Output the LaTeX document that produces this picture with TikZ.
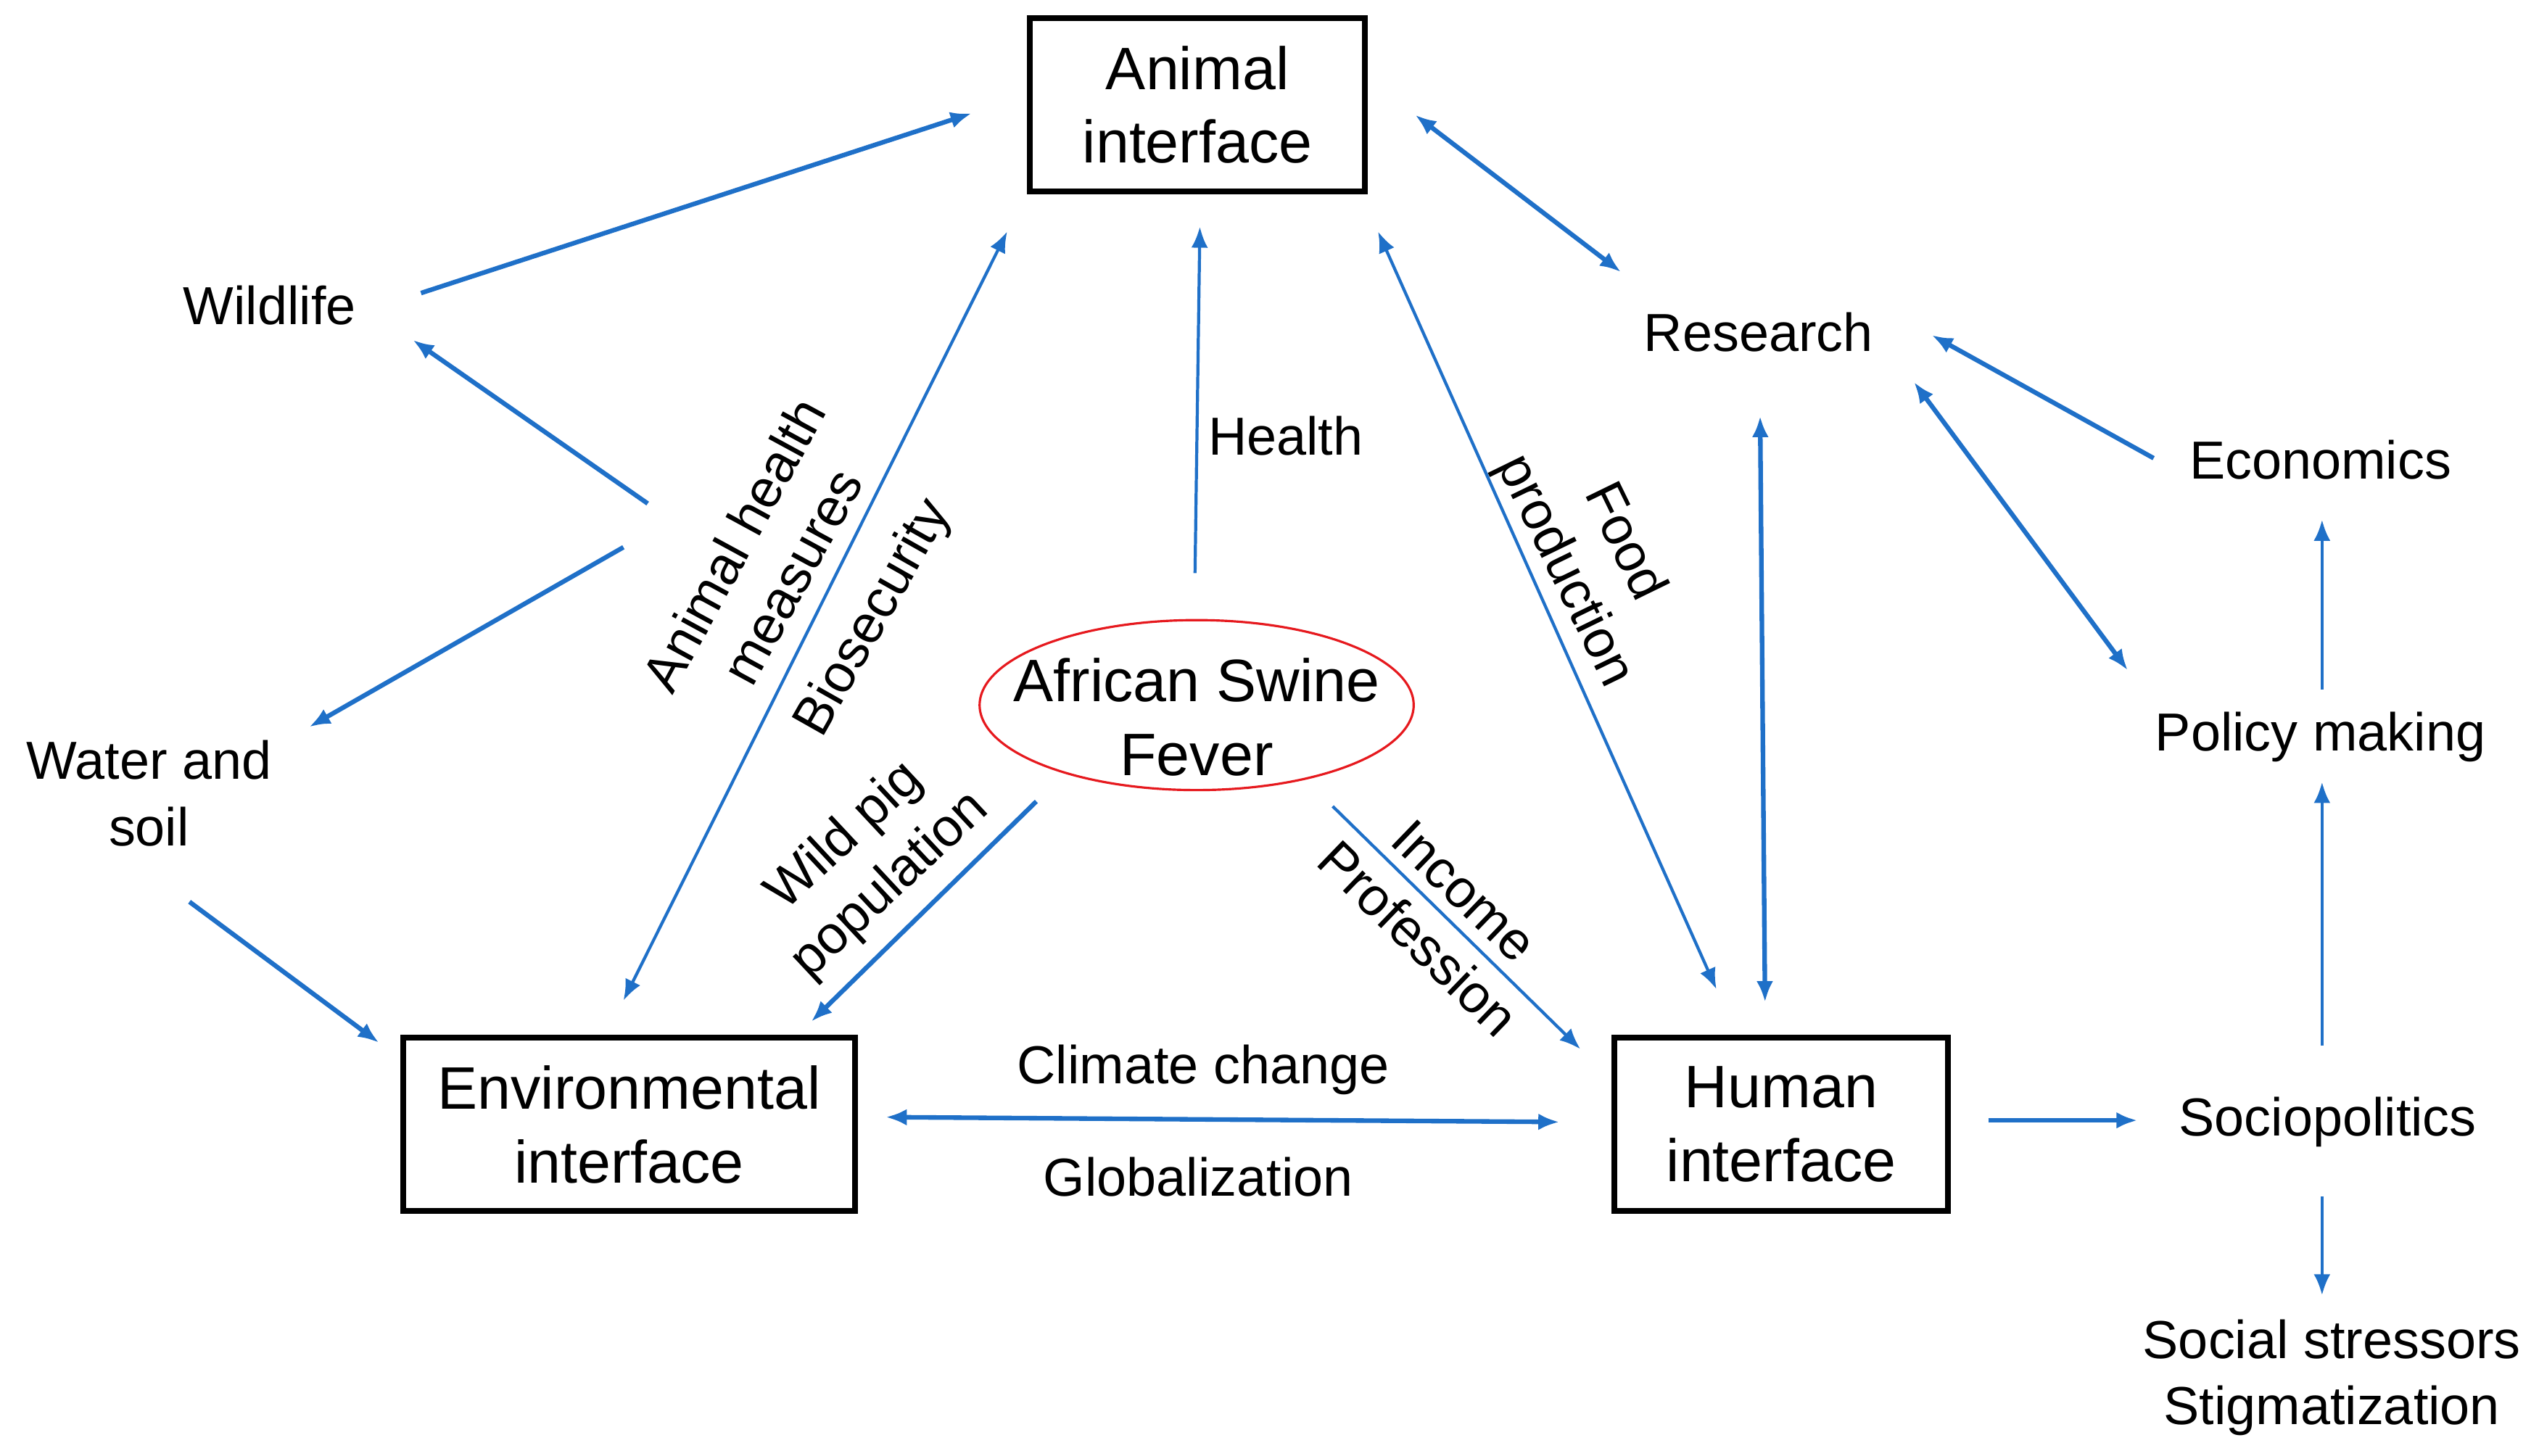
\documentclass[tikz,border=0pt]{standalone}
\usepackage{fontspec}
\setmainfont{Liberation Sans}
\usetikzlibrary{arrows.meta,calc,shapes.geometric}
\definecolor{arrblue}{RGB}{31,112,200}
\definecolor{ellred}{RGB}{230,25,30}
\begin{document}
\begin{tikzpicture}[x=0.022328cm,y=-0.022328cm,
 lbl/.style={font=\fontsize{21}{26}\selectfont, inner sep=0pt, align=center},
 bigtxt/.style={font=\fontsize{23.5}{29}\selectfont, inner sep=0pt, align=center},
 iface/.style={bigtxt, draw=black, line width=2.2pt},
 arr/.style={draw=arrblue, line width=1.8pt, -{Latex[length=0.29cm,width=0.23cm]}},
 darr/.style={arr, {Latex[length=0.29cm,width=0.23cm]}-{Latex[length=0.29cm,width=0.23cm]}},
 thinline/.style={line width=1.2pt},
]
\useasboundingbox[fill=white] (0,0) rectangle (1568,898.87);
% main nodes
\node[iface, minimum width=4.622cm, minimum height=2.389cm] (animal) at (739.5,64.7) {Animal\\interface};
\node[iface, minimum width=6.229cm, minimum height=2.389cm] (env) at (388.5,694.5) {Environmental\\interface};
\node[iface, minimum width=4.600cm, minimum height=2.389cm] (human) at (1100,694.5) {Human\\interface};
\node[ellipse, draw=ellred, line width=0.9pt, minimum width=5.984cm, minimum height=2.344cm, inner sep=0pt] (asf) at (739,435.5) {};
\node[bigtxt] (asftext) at (739,443) {African Swine\\Fever};
% text nodes
\node[lbl] (wild) at (166.5,188.5) {Wildlife};
\node[lbl] (water) at (92,490) {Water and\\soil};
\node[lbl] (research) at (1086,205) {Research};
\node[lbl] (econ) at (1433,284) {Economics};
\node[lbl] (policy) at (1433,455) {Policy making};
\node[lbl] (socio) at (1437.5,693) {Sociopolitics};
\node[lbl] (stress) at (1440,851) {Social stressors\\Stigmatization};
% labels
\node[lbl] (health) at (794,269) {Health};
\node[lbl] (climate) at (743,661) {Climate change};
\node[lbl] (glob) at (740,727) {Globalization};
\node[lbl, rotate=61.5] (ahm) at (471,346) {Animal health\\measures};
\node[lbl, rotate=60.5] (bio) at (540,382) {Biosecurity};
\node[lbl, rotate=43] (wpp) at (536,532) {Wild pig\\population};
\node[lbl, rotate=-44] (inc) at (890,565) {Income\\Profession};
\node[lbl, rotate=-64] (food) at (984,344) {Food\\production};
% branch points
\coordinate (b1) at (400,311);
\coordinate (b2) at (385,338);
% connectors
\draw[arr] ($(wild)+(93.5,-7.5)$) -- ($(animal)+(-139.5,5.3)$);
\draw[arr] (b1) -- ($(wild)+(88.5,21.5)$);
\draw[arr] (b2) -- ($(water)+(99,-41)$);
\draw[arr] ($(water)+(25,67)$) -- ($(env)+(-154.5,-50.5)$);
\draw[darr,thinline] ($(env)+(-3.5,-76.5)$) -- ($(animal)+(-117.5,78.3)$);
\draw[arr,thinline] ($(asf)+(-1,-81.5)$) -- ($(animal)+(1.5,75.3)$);
\draw[darr,thinline] ($(human)+(-40,-83.5)$) -- ($(animal)+(111.5,78.3)$);
\draw[darr] ($(animal)+(134.5,6.3)$) -- ($(research)+(-85,-37)$);
\draw[darr] ($(research)+(1,52)$) -- ($(human)+(-10,-75.5)$);
\draw[arr] ($(econ)+(-103,-1)$) -- ($(research)+(107,2)$);
\draw[darr] ($(research)+(96,31)$) -- ($(policy)+(-119,-41)$);
\draw[arr,thinline] ($(policy)+(1,-29)$) -- ($(econ)+(1,37)$);
\draw[arr,thinline] ($(socio)+(-3.5,-47)$) -- ($(policy)+(1,28)$);
\draw[arr] ($(human)+(128,-2.5)$) -- ($(socio)+(-117.5,-1)$);
\draw[arr,thinline] ($(socio)+(-3.5,46)$) -- ($(stress)+(-6,-51)$);
\draw[darr] ($(env)+(158.5,-4.5)$) -- ($(human)+(-137,-1.5)$);
\draw[arr] ($(asf)+(-99,59.5)$) -- ($(env)+(112.5,-63.5)$);
\draw[arr,thinline] ($(asf)+(84,62.5)$) -- ($(human)+(-124,-46.5)$);
\end{tikzpicture}
\end{document}
